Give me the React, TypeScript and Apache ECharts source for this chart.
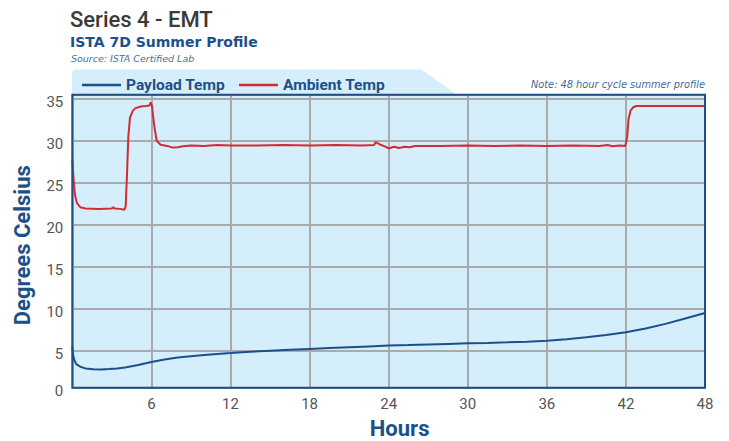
import React, { useEffect, useRef } from "react";
import * as echarts from "echarts";

// ---- data ----
const payloadHours = [0, 0.05, 0.15, 0.3, 0.6, 1.0, 1.6, 2.2, 2.8, 3.4, 4.0, 5.0, 6.0, 7.0, 8.0, 9.0, 10, 11, 12, 13.5, 15, 16.5, 18, 19.5, 21, 22.5, 24, 25.5, 27, 28.5, 30, 31.5, 33, 34.5, 36, 37.5, 39, 40.5, 42, 43.5, 45, 46.5, 48];
const payloadTemp = [5.5, 4.6, 3.9, 3.4, 3.1, 2.9, 2.8, 2.78, 2.82, 2.9, 3.0, 3.3, 3.65, 3.95, 4.2, 4.35, 4.5, 4.62, 4.72, 4.88, 5.0, 5.12, 5.22, 5.32, 5.42, 5.52, 5.62, 5.68, 5.75, 5.82, 5.88, 5.93, 6.0, 6.08, 6.2, 6.38, 6.6, 6.88, 7.2, 7.65, 8.2, 8.85, 9.5];

const ambientHours = [0, 0.1, 0.2, 0.35, 0.6, 1.0, 2.0, 3.0, 3.1, 3.2, 3.6, 3.95, 4.05, 4.15, 4.25, 4.38, 4.6, 4.8, 5.2, 5.6, 5.85, 5.95, 6.05, 6.2, 6.4, 6.7, 7.2, 7.6, 8.0, 8.4, 9, 10, 11, 12, 14, 16, 18, 20, 22, 22.9, 23.0, 23.3, 23.7, 24.0, 24.4, 24.8, 25.2, 25.6, 26, 28, 30, 32, 34, 36, 38, 40, 40.6, 41.0, 41.5, 41.95, 42.1, 42.2, 42.35, 42.55, 42.8, 44, 46, 48];
const ambientTemp = [27.8, 25.4, 23.6, 22.6, 22.1, 21.95, 21.9, 21.95, 22.1, 21.95, 21.9, 21.8, 22.2, 26.0, 30.5, 32.8, 33.6, 33.9, 34.1, 34.15, 34.2, 34.6, 34.1, 32.0, 30.0, 29.55, 29.4, 29.2, 29.25, 29.35, 29.45, 29.4, 29.5, 29.45, 29.45, 29.5, 29.45, 29.5, 29.45, 29.5, 29.85, 29.6, 29.35, 29.1, 29.3, 29.15, 29.3, 29.25, 29.4, 29.4, 29.45, 29.4, 29.45, 29.4, 29.45, 29.4, 29.5, 29.35, 29.45, 29.4, 30.5, 32.6, 33.6, 34.0, 34.15, 34.15, 34.15, 34.15];

const seriesNames = ["Payload Temp", "Ambient Temp"];
const xMin = 0;
const xMax = 48;
const xInterval = 6;
const yMin = 0.6;
const yMax = 35.5;
const yStep = 5;

const BLUE = "#1d4f8a";
const RED = "#d42a33";
const FONT = "Roboto, 'Noto Sans', sans-serif";
const DEJAVU = "'DejaVu Sans', sans-serif";

export default function App() {
  const ref = useRef<HTMLDivElement>(null);

  useEffect(() => {
    if (!ref.current) return;
    const chart = echarts.init(ref.current, undefined, { renderer: "svg" });
    const payloadData = payloadHours.map((h, i) => [h, payloadTemp[i]]);
    const ambientData = ambientHours.map((h, i) => [h, ambientTemp[i]]);

    const left = 72.3, top = 94.7, right = 705, bottom = 387.7;

    chart.setOption({
      animation: false,
      backgroundColor: "#ffffff",
      textStyle: { fontFamily: FONT },
      title: [
        { text: "Series 4 - EMT", left: 70, top: 8, padding: 0, textStyle: { fontSize: 22, fontWeight: 500, color: "#3a3a3a", fontFamily: FONT } },
        { text: "ISTA 7D Summer Profile", left: 70, top: 35, padding: 0, textStyle: { fontSize: 14, fontWeight: "bold", color: BLUE, fontFamily: DEJAVU } },
        { text: "Source: ISTA Certified Lab", left: 71, top: 53, padding: 0, textStyle: { fontSize: 9.5, fontStyle: "italic", fontWeight: "normal", color: "#4a6f9c", fontFamily: DEJAVU } },
        { text: "Note: 48 hour cycle summer profile", right: 24, top: 79, padding: 0, textStyle: { fontSize: 9.8, fontStyle: "italic", fontWeight: "normal", color: "#3f6a9a", fontFamily: DEJAVU } },
      ],
      legend: {
        data: seriesNames,
        left: 82,
        top: 77,
        padding: 0,
        icon: "rect",
        itemWidth: 39,
        itemHeight: 2.5,
        itemGap: 14,
        textStyle: { fontSize: 15.5, fontWeight: "bold", color: BLUE, fontFamily: FONT },
      },
      graphic: [
        {
          type: "polygon",
          z: -10,
          shape: { points: [[72, 94.7], [72, 73], [73, 70.7], [75.5, 69.5], [421.7, 69.5], [456.7, 94.7]] },
          style: { fill: "#d4eefb" },
        },
        {
          type: "rect",
          z: 100,
          shape: { x: left, y: top, width: right - left, height: bottom - top },
          style: { fill: "none", stroke: "#1f4e80", lineWidth: 2 },
        },
      ],
      grid: {
        left: left,
        top: top,
        width: right - left,
        height: bottom - top,
        show: true,
        backgroundColor: "#d4eefb",
        borderWidth: 0,
        containLabel: false,
        outerBoundsMode: "none",
      },
      xAxis: {
        type: "value",
        min: xMin,
        max: xMax,
        interval: xInterval,
        name: "Hours",
        nameLocation: "middle",
        nameGap: 30,
        nameTextStyle: { fontSize: 22, fontWeight: "bold", color: BLUE, fontFamily: FONT, padding: [0, 0, 0, 22] },
        axisLine: { show: false },
        axisTick: { show: false },
        splitLine: { show: true, lineStyle: { color: "#aaaaaa", width: 2 } },
        axisLabel: {
          color: "#555555",
          fontSize: 15,
          margin: 9,
          fontFamily: FONT,
          formatter: (v: number) => (v === xMin ? "" : String(v)),
        },
      },
      yAxis: {
        type: "value",
        min: yMin,
        max: yMax,
        minInterval: yStep,
        maxInterval: yStep,
        splitNumber: 7,
        name: "Degrees Celsius",
        nameLocation: "middle",
        nameGap: 39,
        nameTextStyle: { fontSize: 22, fontWeight: "bold", color: BLUE, fontFamily: FONT, padding: [0, 8, 0, 0] },
        axisLine: { show: false },
        axisTick: { show: false },
        splitLine: { show: true, lineStyle: { color: "#aaaaaa", width: 2 } },
        axisLabel: {
          color: "#555555",
          fontSize: 15,
          margin: 9,
          fontFamily: FONT,
          showMinLabel: true,
          showMaxLabel: true,
          formatter: (v: number) => (v < 1 ? "{a|0}" : v > 35.2 ? "" : "{a|" + Math.round(v) + "}"),
          rich: { a: { fontSize: 15, color: "#555555", fontFamily: FONT, padding: [7, 0, 0, 0] } },
        },
      },
      series: [
        {
          name: seriesNames[0],
          type: "line",
          data: payloadData,
          showSymbol: false,
          symbol: "none",
          color: BLUE,
          lineStyle: { color: BLUE, width: 2 },
          z: 3,
        },
        {
          name: seriesNames[1],
          type: "line",
          data: ambientData,
          showSymbol: false,
          symbol: "none",
          color: RED,
          lineStyle: { color: RED, width: 2 },
          z: 4,
        },
      ],
    });

    return () => chart.dispose();
  }, []);

  return <div ref={ref} style={{ width: 729, height: 441, position: "absolute", left: 0, top: 0 }} />;
}
